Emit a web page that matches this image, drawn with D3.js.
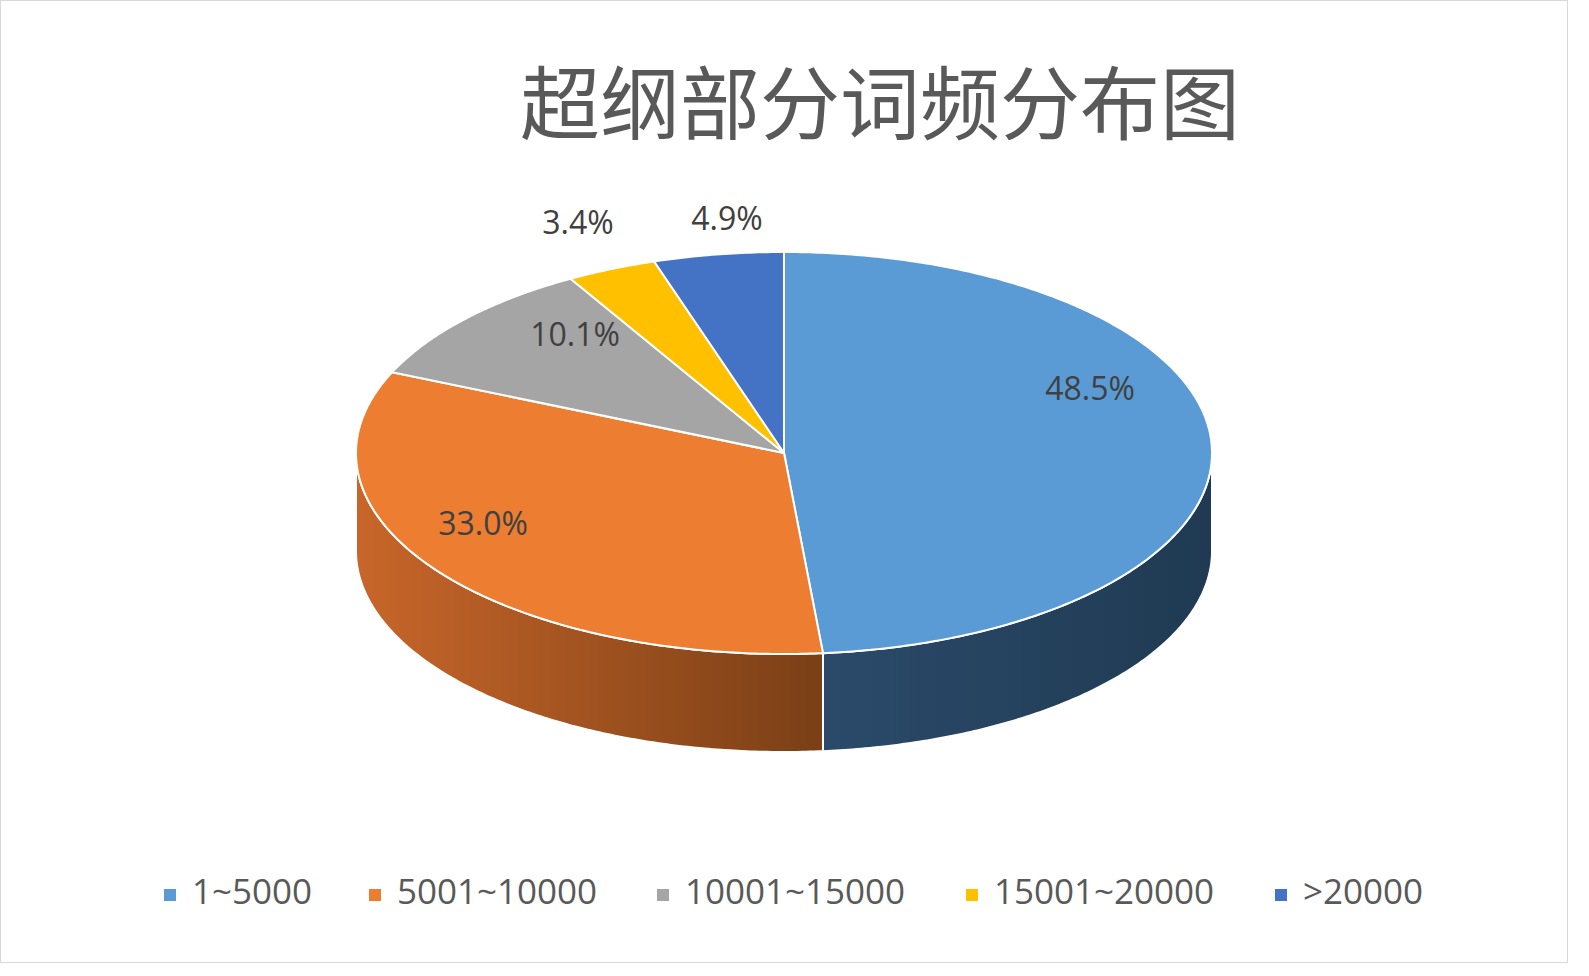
<!DOCTYPE html>
<html><head><meta charset="utf-8">
<script src="https://cdn.jsdelivr.net/npm/d3@7/dist/d3.min.js"></script>
<style>body{margin:0;background:#fff}</style></head>
<body><svg id="c" width="1589" height="976"></svg>
<script>
const categories=["1~5000","5001~10000","10001~15000","15001~20000",">20000"];
const values=[48.5,33.0,10.1,3.4,4.9];
const labels=["48.5%","33.0%","10.1%","3.4%","4.9%"];
const topColors=["#5B9BD5","#ED7D31","#A5A5A5","#FFC000","#4472C4"];
const sideColors=[["#2B4A6A","#1F3A52"],["#C8662A","#7A3F16"],["#7a7a7a","#5a5a5a"],["#bf9000","#9a7400"],["#2f5597","#24427a"]];
const labelXY=[[1090,391],[483,526],[575,337],[578,225],[727,221]];

const svg=d3.select("#c");
svg.append("rect").attr("x",0.5).attr("y",0.5).attr("width",1567).attr("height",962).attr("fill","#fff").attr("stroke","#d9d9d9");
svg.append("text").attr("x",880).attr("y",133).attr("text-anchor","middle").attr("font-family","Noto Sans CJK SC").attr("font-size",80).attr("fill","#595959").text("超纲部分词频分布图");

const cx=784,cy=453,rx=428,ry=201,depth=98;
const pie=d3.pie().sort(null).value(d=>d)(values);
const pt=(a,dy=0)=>[cx+rx*Math.sin(a),cy-ry*Math.cos(a)+dy];
const defs=svg.append("defs");
sideColors.forEach((c,i)=>{const g=defs.append("linearGradient").attr("id","g"+i).attr("x1","0").attr("x2","1");
 g.append("stop").attr("offset","0").attr("stop-color",c[0]);g.append("stop").attr("offset","1").attr("stop-color",c[1]);});
const arcPts=(a0,a1,dy)=>{const n=Math.max(2,Math.ceil((a1-a0)/0.01));return d3.range(n+1).map(k=>pt(a0+(a1-a0)*k/n,dy));};
const line=d3.line();
pie.forEach((p,i)=>{
 const s=Math.max(p.startAngle,Math.PI/2), e=Math.min(p.endAngle,3*Math.PI/2);
 if(e<=s) return;
 const top=arcPts(s,e,0), bot=arcPts(s,e,depth).reverse();
 svg.append("path").attr("d",line(top.concat(bot))+"Z").attr("fill",`url(#g${i})`).attr("stroke","#fff").attr("stroke-width",2);
});
pie.forEach((p,i)=>{
 const pts=[[cx,cy]].concat(arcPts(p.startAngle,p.endAngle,0));
 svg.append("path").attr("d",line(pts)+"Z").attr("fill",topColors[i]).attr("stroke","#fff").attr("stroke-width",2).attr("stroke-linejoin","round");
});
labels.forEach((t,i)=>svg.append("text").attr("x",labelXY[i][0]).attr("y",labelXY[i][1]).attr("text-anchor","middle").attr("dominant-baseline","middle")
 .attr("font-family","Open Sans, Noto Sans").attr("font-size",32).attr("fill","#404040").text(t));
const lx=[170,375,663,972,1281];
categories.forEach((c,i)=>{
 svg.append("rect").attr("x",lx[i]-6).attr("y",889).attr("width",12).attr("height",12).attr("fill",topColors[i]);
 svg.append("text").attr("x",lx[i]+22).attr("y",895).attr("dominant-baseline","middle").attr("font-family","Open Sans, Noto Sans").attr("font-size",35).attr("fill","#595959").text(c);
});
</script></body></html>
